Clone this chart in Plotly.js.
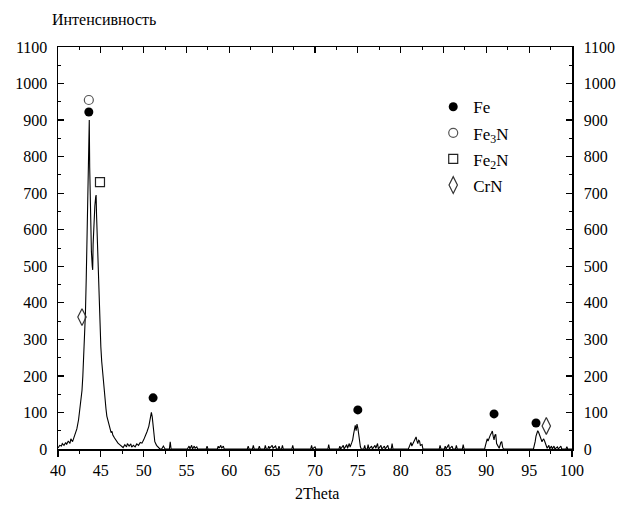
<!DOCTYPE html>
<html><head><meta charset="utf-8">
<script src="https://cdn.plot.ly/plotly-3.0.1.min.js"></script>
<style>body{margin:0;padding:0;background:#fff}#chart{width:617px;height:513px}</style>
</head><body><div id="chart"></div>
<script>
const twoTheta = [40.0,40.2,40.4,40.5,40.7,40.9,41.0,41.2,41.4,41.5,41.7,41.9,42.0,42.2,42.4,42.6,42.8,42.9,43.0,43.1,43.2,43.3,43.4,43.5,43.55,43.6,43.65,43.7,43.8,43.9,44.0,44.05,44.1,44.2,44.3,44.4,44.45,44.5,44.6,44.7,44.8,44.9,45.0,45.1,45.2,45.3,45.4,45.5,45.6,45.7,45.8,45.9,46.0,46.1,46.2,46.3,46.4,46.6,46.8,47.0,47.2,47.4,47.6,
47.8,48.0,48.1,48.3,48.5,48.6,48.8,49.0,49.2,49.4,49.6,49.8,50.0,50.2,50.4,50.6,50.7,50.8,50.9,51.0,51.1,51.2,51.3,51.5,51.7,51.9,
52.1,52.3,52.5,53.0,53.1,53.2,55.1,55.3,55.4,55.6,55.7,55.9,56.0,56.2,56.3,57.3,57.4,57.5,58.6,58.7,58.8,59.0,59.1,59.3,59.4,
62.1,62.2,62.3,62.7,62.8,62.9,63.4,63.5,63.6,64.1,64.2,64.3,64.5,64.6,64.7,65.0,65.1,65.4,65.5,65.7,65.8,65.9,66.1,66.2,66.3,67.3,67.4,67.5,69.5,69.6,69.7,70.0,70.1,71.5,71.6,71.7,
72.8,72.9,73.0,73.3,73.4,73.7,73.8,74.0,74.1,74.3,74.4,74.5,74.6,74.7,74.8,74.9,75.0,75.1,75.2,75.3,75.4,
75.7,75.8,75.9,76.1,76.2,76.3,76.6,76.7,77.0,77.1,77.3,77.4,77.7,77.8,78.1,78.2,78.5,78.6,78.9,79.0,79.1,
80.9,81.1,81.2,81.3,81.5,81.7,81.8,81.9,82.0,82.1,82.2,82.3,82.5,82.6,
84.5,84.6,84.7,85.1,85.2,85.3,85.6,85.7,86.0,86.1,86.4,86.5,86.6,87.2,87.3,87.4,
89.8,89.9,90.0,90.1,90.2,90.3,90.4,90.5,90.6,90.7,90.8,90.9,91.0,91.1,91.2,91.4,91.5,91.7,91.8,91.9,92.0,
95.5,95.6,95.7,95.8,95.9,96.0,96.1,96.2,96.3,96.4,96.5,96.6,96.7,96.8,96.9,97.0,97.1,97.3,97.4,97.6,97.7,97.9,98.0,98.3,98.4,98.7,98.8,99.3,99.4,99.5,100.0];
const intensity = [3,10,8,15,10,18,12,22,15,28,20,35,42,55,80,115,160,200,250,300,370,470,620,760,720,890,900,770,600,540,500,490,560,630,665,690,695,640,560,480,400,335,280,240,210,185,160,135,110,90,80,70,62,55,45,48,38,30,22,16,12,8,4,
12,6,15,8,14,5,10,6,14,10,18,16,25,35,48,62,72,90,100,88,60,35,20,10,4,0,
0,8,0,0,20,0,0,8,0,10,0,8,2,6,0,0,8,0,0,8,2,10,2,8,0,
0,8,0,0,10,0,0,8,0,0,10,0,0,8,2,10,2,8,0,0,8,0,0,10,0,0,10,0,0,10,0,6,0,0,12,0,
0,8,0,10,0,12,2,15,5,18,25,40,55,65,50,68,58,38,18,6,0,
0,10,0,0,12,0,8,0,10,2,15,0,10,0,8,0,10,0,0,15,0,
0,15,18,8,20,28,33,22,15,24,22,10,12,0,
0,10,0,0,8,0,12,0,8,0,0,10,0,0,12,0,
0,10,18,28,22,30,36,40,44,49,35,25,38,40,15,8,2,18,20,5,0,
0,8,20,35,45,50,46,38,30,22,20,25,27,22,15,8,2,10,0,8,0,8,0,6,0,8,0,0,6,0,0];

const feX = [43.6,51.1,75.0,90.9,95.8];
const feY = [922,140,107,96,71];
const fe3nX = [43.6];
const fe3nY = [955];
const fe2nX = [44.9];
const fe2nY = [730];
const crnX = [42.8,97.0];
const crnY = [361,63];

const serif = "'Liberation Serif', serif";
const traces = [
  {x: twoTheta, y: intensity, mode: 'lines', line: {color: '#000', width: 1.1}, showlegend: false, hoverinfo: 'skip'},
  {x: feX, y: feY, mode: 'markers', name: 'Fe', legendgroup: 'a', marker: {symbol: 'circle', size: 9, color: '#000'}},
  {x: fe3nX, y: fe3nY, mode: 'markers', name: 'Fe<sub>3</sub>N', legendgroup: 'b', marker: {symbol: 'circle-open', size: 9, color: '#555', line: {width: 1.2}}},
  {x: fe2nX, y: fe2nY, mode: 'markers', name: 'Fe<sub>2</sub>N', legendgroup: 'c', marker: {symbol: 'square-open', size: 9, color: '#222', line: {width: 1.2}}},
  {x: crnX, y: crnY, mode: 'markers', name: 'CrN', legendgroup: 'd', marker: {symbol: 'diamond-tall-open', size: 12, color: '#333', line: {width: 1.2}}},
  {x: [], y: [], xaxis: 'x2', yaxis: 'y2', showlegend: false}
];
const tickFont = {family: serif, size: 16, color: '#000'};
const layout = {
  width: 617, height: 513,
  margin: {l: 58, r: 45, t: 47, b: 64},
  paper_bgcolor: '#fff', plot_bgcolor: '#fff',
  showlegend: true,
  legend: {x: 0.73, y: 0.895, xanchor: 'left', yanchor: 'top', font: {family: serif, size: 17, color: '#000'}, bgcolor: 'rgba(0,0,0,0)', tracegroupgap: 1},
  xaxis: {range: [40, 100], dtick: 5, tick0: 40, ticks: 'outside', ticklen: 6, tickwidth: 1.2, tickcolor: '#000',
    minor: {dtick: 2.5, ticks: 'outside', ticklen: 3, tickcolor: '#000', tickwidth: 1},
    showline: true, linecolor: '#000', linewidth: 1.5, showgrid: false, zeroline: false, tickfont: tickFont, fixedrange: true},
  xaxis2: {range: [40, 100], dtick: 5, tick0: 40, overlaying: 'x', side: 'top', ticks: 'inside', ticklen: 6, tickwidth: 1.2, tickcolor: '#000',
    minor: {dtick: 2.5, ticks: 'inside', ticklen: 3, tickcolor: '#000', tickwidth: 1},
    showticklabels: false, showline: true, linecolor: '#000', linewidth: 1.5, showgrid: false, zeroline: false},
  yaxis: {range: [0, 1100], dtick: 100, ticks: 'inside', ticklen: 6, tickwidth: 1.2, tickcolor: '#000',
    minor: {dtick: 50, ticks: 'inside', ticklen: 3, tickcolor: '#000', tickwidth: 1},
    showline: true, linecolor: '#000', linewidth: 1.5, showgrid: false, zeroline: false, tickfont: tickFont, ticklabelstandoff: 6},
  yaxis2: {range: [0, 1100], dtick: 100, overlaying: 'y', side: 'right', ticks: 'inside', ticklen: 6, tickwidth: 1.2, tickcolor: '#000',
    minor: {dtick: 50, ticks: 'inside', ticklen: 3, tickcolor: '#000', tickwidth: 1},
    showline: true, linecolor: '#000', linewidth: 1.5, showgrid: false, zeroline: false, tickfont: tickFont, ticklabelstandoff: 7},
  annotations: [
    {text: 'Интенсивность', xref: 'paper', yref: 'paper', x: (50 - 58) / 514, y: (449 - 20) / 402, xanchor: 'left', yanchor: 'middle', showarrow: false, font: {family: serif, size: 16, color: '#000'}},
    {text: '2Theta', xref: 'paper', yref: 'paper', x: (317 - 58) / 514, y: (449 - 493) / 402, xanchor: 'center', yanchor: 'middle', showarrow: false, font: {family: serif, size: 16, color: '#000'}}
  ]
};
Plotly.newPlot('chart', traces, layout, {displayModeBar: false, staticPlot: true});
</script></body></html>
